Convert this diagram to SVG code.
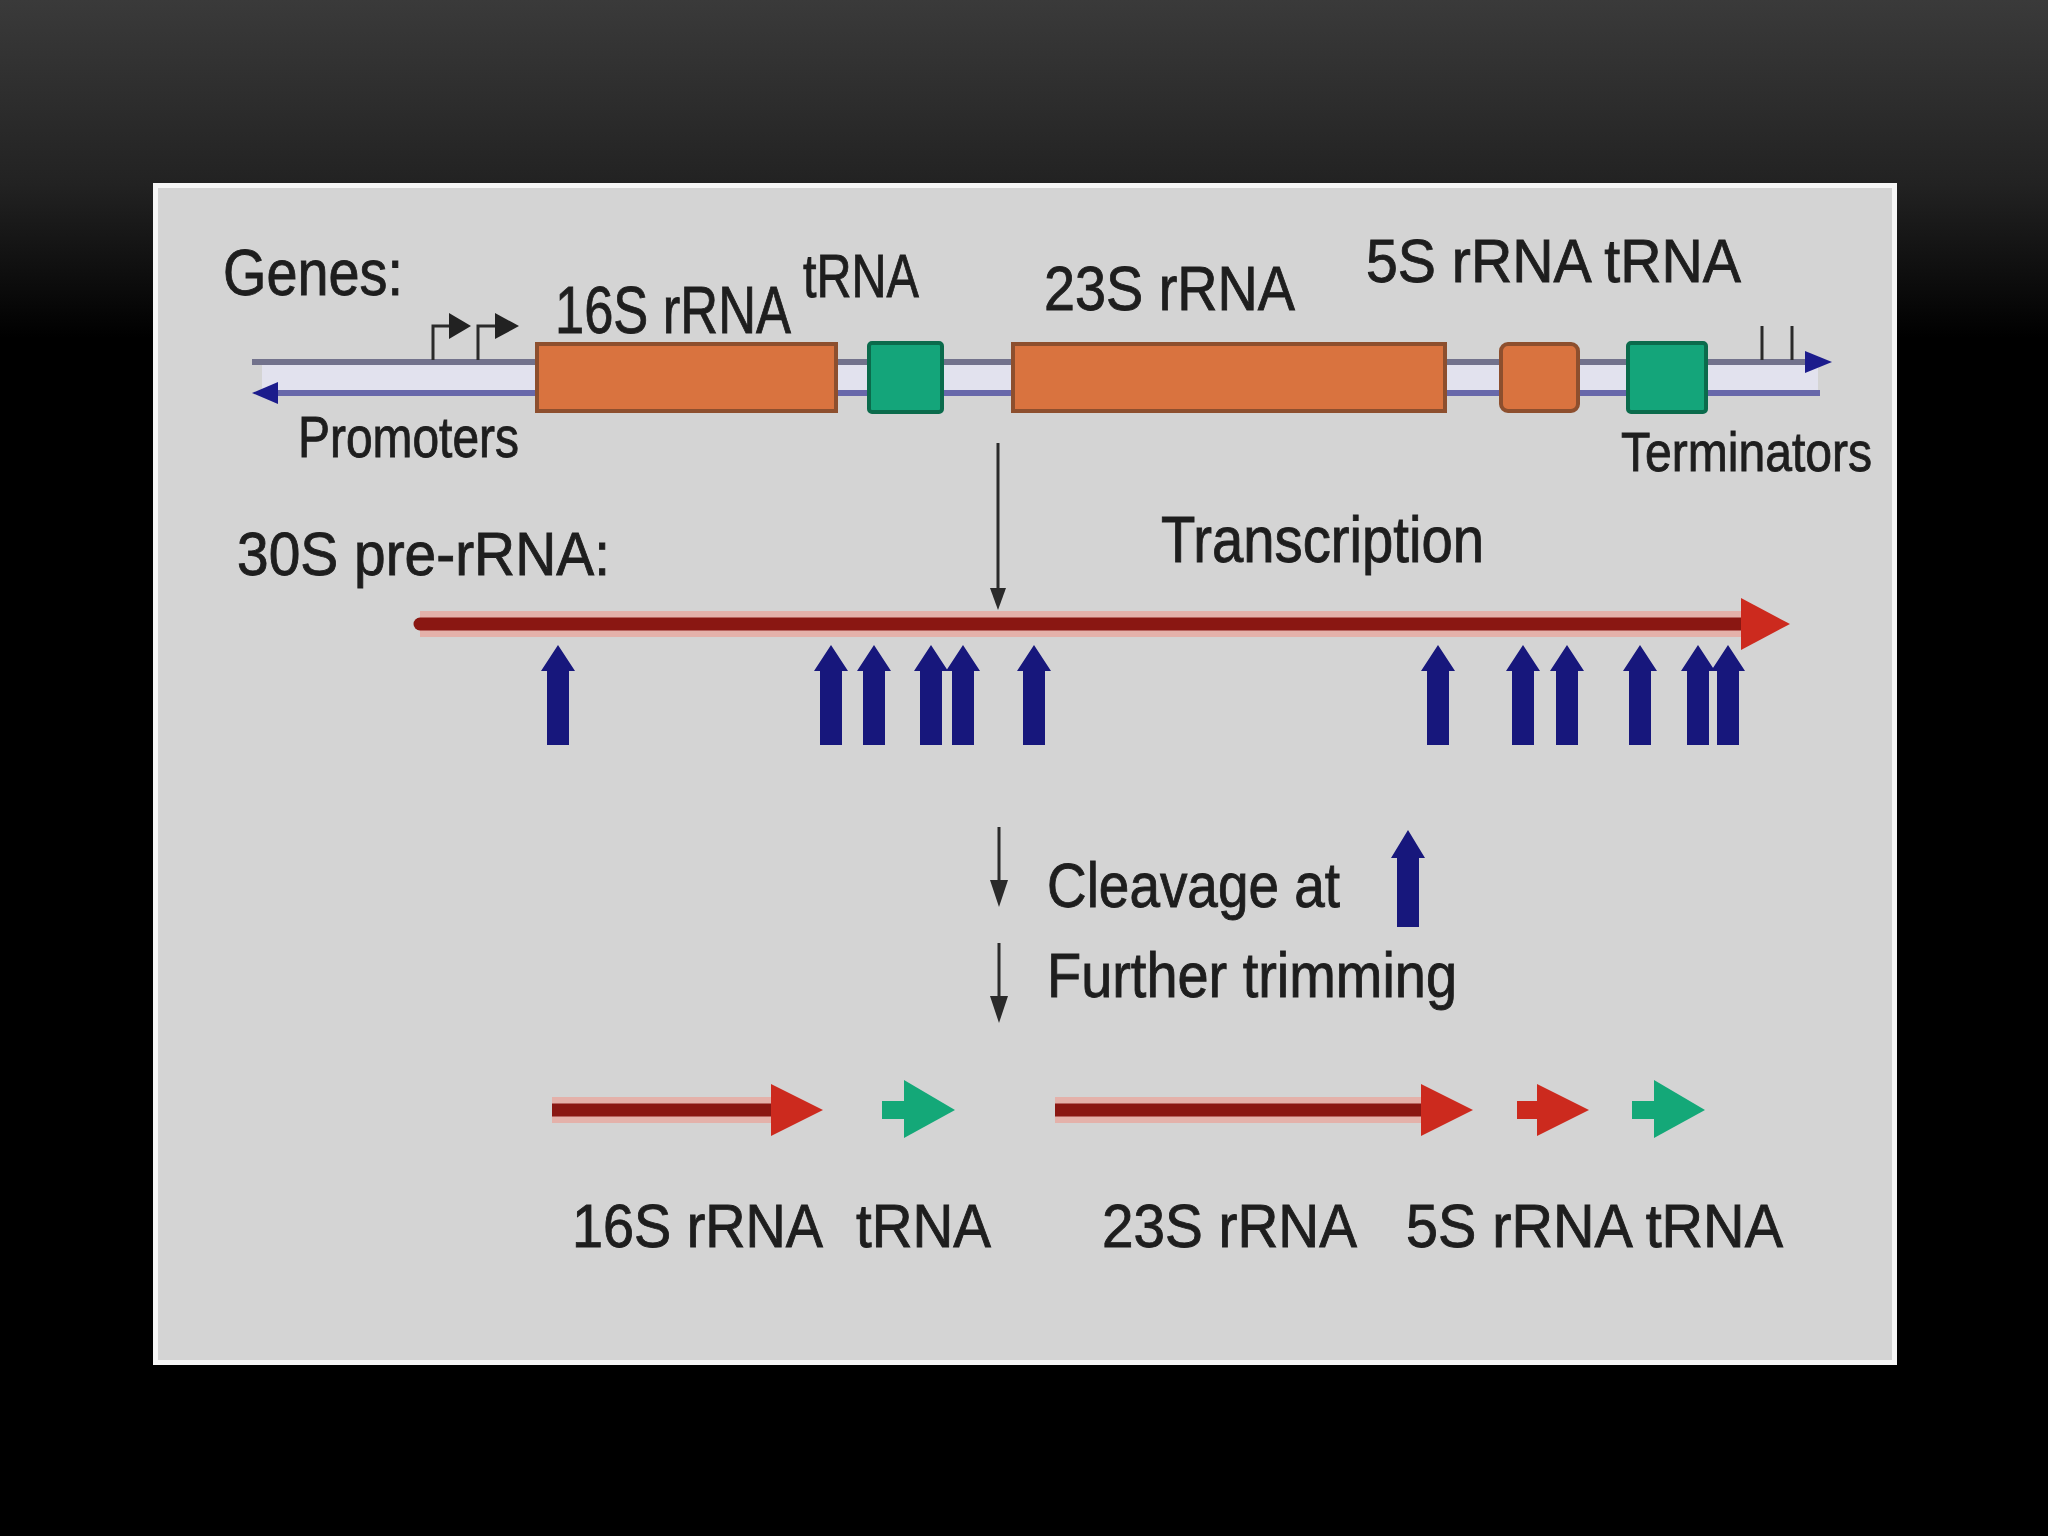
<svg xmlns="http://www.w3.org/2000/svg" width="2048" height="1536" viewBox="0 0 2048 1536">
<defs>
<linearGradient id="bg" x1="0" y1="0" x2="0" y2="1536" gradientUnits="userSpaceOnUse">
<stop offset="0" stop-color="#3a3a3a"/>
<stop offset="0.12" stop-color="#222"/>
<stop offset="0.22" stop-color="#000"/>
<stop offset="1" stop-color="#000"/>
</linearGradient>
<path id="up" d="M0,0 L17,26 L11,26 L11,100 L-11,100 L-11,26 L-17,26 Z"/>
<style>
.t{font-family:"Liberation Sans",Arial,sans-serif;fill:#1e1e1e;stroke:#1e1e1e;stroke-width:0.9}
.blue{fill:#17177c}
.dna1{stroke:#72728c;stroke-width:6}
.dna2{stroke:#6868aa;stroke-width:6}
.rbox{fill:#d9733f;stroke:#8d4f2e;stroke-width:4}
.gbox{fill:#14a57a;stroke:#0b6b4c;stroke-width:4}
.blk{stroke:#2a2a2a;stroke-width:3;fill:none}
.pink{stroke:#eaa69c;stroke-width:26;opacity:0.75}
.core{stroke:#8a1712;stroke-width:13}
.rhead{fill:#cc2a1e}
.ghead{fill:#14a878}
</style>
</defs>
<rect x="0" y="0" width="2048" height="1536" fill="url(#bg)"/>
<rect x="153" y="183" width="1744" height="1182" fill="#f6f6f6"/>
<rect x="158" y="188" width="1734" height="1172" fill="#d4d4d4"/>

<g id="dna">
<rect x="262" y="365" width="1556" height="25" fill="#e2e2ee"/>
<line class="dna1" x1="252" y1="362" x2="1808" y2="362"/>
<polygon points="1805,351 1832,362 1805,373" fill="#1c1c8c"/>
<line class="dna2" x1="270" y1="393" x2="1820" y2="393"/>
<polygon points="278,382 252,393 278,404" fill="#1c1c8c"/>
</g>

<g id="promoters">
<path class="blk" d="M433,360 V326 H452" stroke-width="5"/>
<polygon points="449,313 471,326 449,339" fill="#222"/>
<path class="blk" d="M478,360 V326 H498" stroke-width="5"/>
<polygon points="495,313 519,326 495,339" fill="#222"/>
</g>
<g id="terminators">
<line class="blk" x1="1762" y1="326" x2="1762" y2="360"/>
<line class="blk" x1="1792" y1="326" x2="1792" y2="360"/>
</g>

<g id="gene-16S"><rect class="rbox" x="537" y="344" width="299" height="67"/></g>
<g id="gene-tRNA1"><rect class="gbox" x="869" y="343" width="73" height="69" rx="3"/></g>
<g id="gene-23S"><rect class="rbox" x="1013" y="344" width="432" height="67"/></g>
<g id="gene-5S"><rect class="rbox" x="1501" y="344" width="77" height="67" rx="7"/></g>
<g id="gene-tRNA2"><rect class="gbox" x="1628" y="343" width="78" height="69" rx="3"/></g>

<g id="labels">
<text class="t" x="223" y="295" font-size="64" textLength="180" lengthAdjust="spacingAndGlyphs">Genes:</text>
<text class="t" x="555" y="333" font-size="66" textLength="236" lengthAdjust="spacingAndGlyphs">16S rRNA</text>
<text class="t" x="803" y="297" font-size="62" textLength="116" lengthAdjust="spacingAndGlyphs">tRNA</text>
<text class="t" x="1044" y="310" font-size="63" textLength="251" lengthAdjust="spacingAndGlyphs">23S rRNA</text>
<text class="t" x="1366" y="282" font-size="62" textLength="375" lengthAdjust="spacingAndGlyphs">5S rRNA tRNA</text>
<text class="t" x="298" y="457" font-size="58" textLength="221" lengthAdjust="spacingAndGlyphs">Promoters</text>
<text class="t" x="1621" y="471" font-size="56" textLength="251" lengthAdjust="spacingAndGlyphs">Terminators</text>
<text class="t" x="237" y="575" font-size="62" textLength="373" lengthAdjust="spacingAndGlyphs">30S pre-rRNA:</text>
<text class="t" x="1161" y="562" font-size="64" textLength="323" lengthAdjust="spacingAndGlyphs">Transcription</text>
<text class="t" x="1047" y="907" font-size="63" textLength="293" lengthAdjust="spacingAndGlyphs">Cleavage at</text>
<text class="t" x="1047" y="997" font-size="63" textLength="410" lengthAdjust="spacingAndGlyphs">Further trimming</text>
<text class="t" x="572" y="1247" font-size="61" textLength="251" lengthAdjust="spacingAndGlyphs">16S rRNA</text>
<text class="t" x="856" y="1247" font-size="61" textLength="135" lengthAdjust="spacingAndGlyphs">tRNA</text>
<text class="t" x="1102" y="1247" font-size="61" textLength="255" lengthAdjust="spacingAndGlyphs">23S rRNA</text>
<text class="t" x="1406" y="1247" font-size="61" textLength="377" lengthAdjust="spacingAndGlyphs">5S rRNA tRNA</text>
</g>

<g id="pre-rRNA">
<line class="pink" x1="420" y1="624" x2="1745" y2="624"/>
<line class="core" x1="420" y1="624" x2="1745" y2="624" stroke-linecap="round"/>
<polygon class="rhead" points="1741,598 1790,624 1741,650"/>
</g>

<g id="cleavage-sites" class="blue">
<use href="#up" x="558" y="645"/>
<use href="#up" x="831" y="645"/>
<use href="#up" x="874" y="645"/>
<use href="#up" x="931" y="645"/>
<use href="#up" x="963" y="645"/>
<use href="#up" x="1034" y="645"/>
<use href="#up" x="1438" y="645"/>
<use href="#up" x="1523" y="645"/>
<use href="#up" x="1567" y="645"/>
<use href="#up" x="1640" y="645"/>
<use href="#up" x="1698" y="645"/>
<use href="#up" x="1728" y="645"/>
</g>

<g id="legend-site" class="blue">
<path d="M1408,830 L1425,858 L1419,858 L1419,927 L1397,927 L1397,858 L1391,858 Z"/>
</g>

<g id="connectors">
<line class="blk" x1="998" y1="443" x2="998" y2="592"/>
<polygon points="990,588 1006,588 998,610" fill="#2a2a2a"/>
<line class="blk" x1="999" y1="827" x2="999" y2="884"/>
<polygon points="990,880 1008,880 999,907" fill="#2a2a2a"/>
<line class="blk" x1="999" y1="943" x2="999" y2="1000"/>
<polygon points="990,996 1008,996 999,1023" fill="#2a2a2a"/>
</g>

<g id="product-16S">
<line class="pink" x1="552" y1="1110" x2="775" y2="1110"/>
<line class="core" x1="552" y1="1110" x2="775" y2="1110"/>
<polygon class="rhead" points="771,1084 823,1110 771,1136"/>
</g>
<g id="product-tRNA1">
<rect class="ghead" x="882" y="1101" width="26" height="18"/>
<polygon class="ghead" points="904,1080 955,1110 904,1138"/>
</g>
<g id="product-23S">
<line class="pink" x1="1055" y1="1110" x2="1423" y2="1110"/>
<line class="core" x1="1055" y1="1110" x2="1423" y2="1110"/>
<polygon class="rhead" points="1421,1084 1473,1110 1421,1136"/>
</g>
<g id="product-5S">
<rect class="rhead" x="1517" y="1101" width="24" height="18"/>
<polygon class="rhead" points="1537,1084 1589,1110 1537,1136"/>
</g>
<g id="product-tRNA2">
<rect class="ghead" x="1632" y="1101" width="26" height="18"/>
<polygon class="ghead" points="1654,1080 1705,1110 1654,1138"/>
</g>
</svg>
